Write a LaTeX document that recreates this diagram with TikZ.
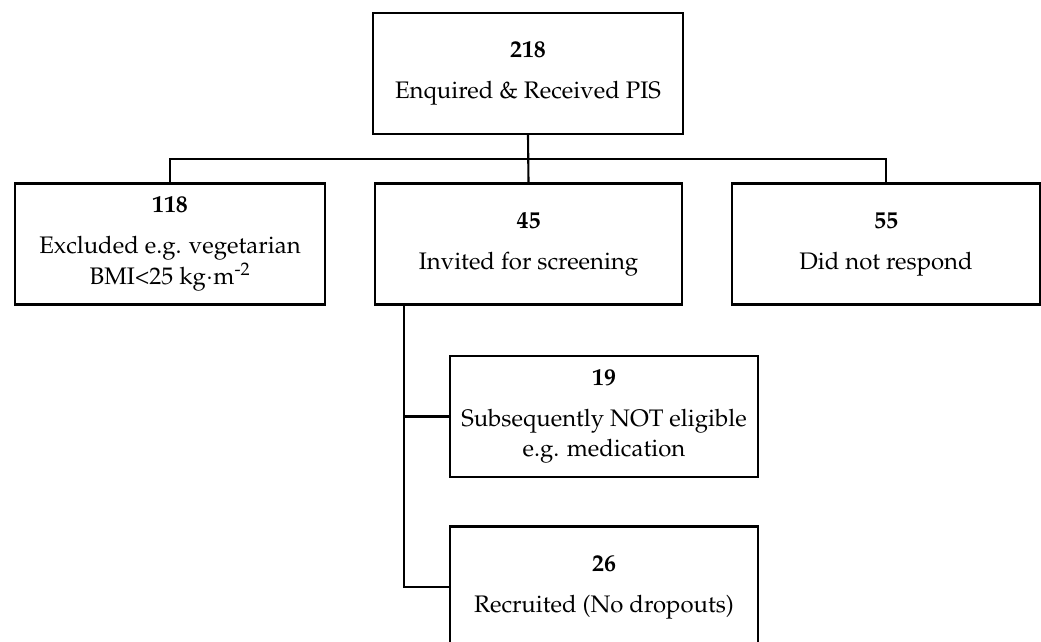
\documentclass[tikz,border=0pt]{standalone}
\usepackage[T1]{fontenc}
\usepackage{mathpazo}
\usepackage{tikz}
\usetikzlibrary{positioning}

\begin{document}
\begin{tikzpicture}[x=0.025cm,y=-0.025cm,line width=1.5pt,
        every node/.style={font=\fontsize{17}{22}\selectfont},
        box/.style={draw,rectangle,align=center,inner sep=0pt,minimum height=121*0.025cm}]
                \useasboundingbox (0,0) rectangle (1041,642);
                \clip (0,0) rectangle (1041,642);
                \node[box,minimum width=310*0.025cm] (top) at (528,73.5) {\textbf{218}\\[7pt]Enquired \& Received PIS};
                \node[box,minimum width=310*0.025cm] (excl) at (170,244) {\textbf{118}\\[7pt]Excluded e.g. vegetarian\\BMI<25 kg$\cdot$m\textsuperscript{-2}};
                \node[box,minimum width=307*0.025cm] (inv) at (528.5,244) {\textbf{45}\\[7pt]Invited for screening};
                \node[box,minimum width=308*0.025cm] (norsp) at (886,244) {\textbf{55}\\[7pt]Did not respond};
                \node[box,minimum width=308*0.025cm] (elig) at (604,416.5) {\textbf{19}\\[7pt]Subsequently NOT eligible\\e.g. medication};
                \node[box,minimum width=308*0.025cm] (recr) at (604,587) {\textbf{26}\\[7pt]Recruited (No dropouts)};
                \coordinate (bus) at (528,159);
                \coordinate (spine) at (404,305);
                \draw (top.south) -- (inv.north);
                \draw (excl.north) |- (bus) -| (norsp.north);
                \draw (spine) |- (recr.west);
                \draw (spine |- elig.west) -- (elig.west);
            \end{tikzpicture}
\end{document}
